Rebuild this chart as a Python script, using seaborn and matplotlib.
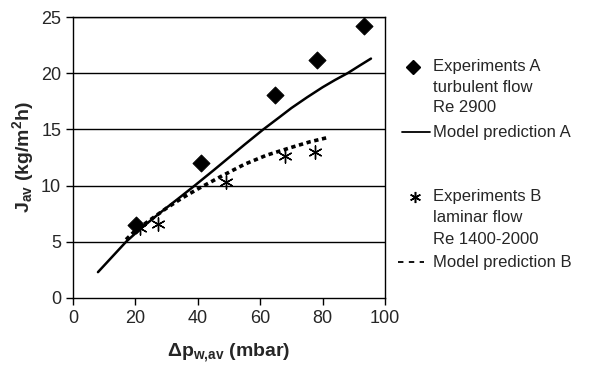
import matplotlib
matplotlib.use("Agg")
import matplotlib.pyplot as plt
from matplotlib.lines import Line2D
import pandas as pd
import seaborn as sns

# experiments A (turbulent)
exp_a_dp = [20.3, 41.0, 64.8, 78.3, 93.2]
exp_a_j = [6.5, 12.0, 18.1, 21.2, 24.2]

# experiments B (laminar)
exp_b_dp = [21.5, 27.3, 49.0, 67.9, 77.5]
exp_b_j = [6.2, 6.6, 10.3, 12.6, 13.0]

# model predictions
model_a_dp = [8, 12, 17, 22, 28, 34, 39, 45, 50, 55, 61, 66, 70, 75, 80, 84, 88, 92, 95.5]
model_a_j = [2.3, 3.5, 5.0, 6.25, 7.6, 8.9, 10.0, 11.35, 12.5, 13.65, 15.0, 16.05,
             16.9, 17.85, 18.75, 19.4, 20.0, 20.7, 21.3]
model_b_dp = [17, 20, 25, 30, 35, 40, 48, 55, 62, 70, 76, 82]
model_b_j = [5.2, 6.0, 7.0, 8.0, 8.9, 9.7, 10.9, 11.9, 12.7, 13.4, 13.9, 14.3]

sns.set_style("ticks")
plt.rcParams['font.family'] = ['Liberation Sans', 'DejaVu Sans']
plt.rcParams['mathtext.fontset'] = 'custom'
plt.rcParams['mathtext.rm'] = 'Liberation Sans'
plt.rcParams['mathtext.it'] = 'Liberation Sans:italic'
plt.rcParams['mathtext.bf'] = 'Liberation Sans:bold'

df_a = pd.DataFrame({'dp': exp_a_dp, 'J': exp_a_j})
df_b = pd.DataFrame({'dp': exp_b_dp, 'J': exp_b_j})
df_ma = pd.DataFrame({'dp': model_a_dp, 'J': model_a_j})
df_mb = pd.DataFrame({'dp': model_b_dp, 'J': model_b_j})

fig = plt.figure(figsize=(5.89, 3.65), dpi=100)
ax = fig.add_axes([73 / 589, 1 - 298 / 365, 312 / 589, 281 / 365])

for yv in [5, 10, 15, 20, 25]:
    ax.axhline(yv, color='black', lw=1, zorder=0)

sns.lineplot(data=df_ma, x='dp', y='J', ax=ax, color='black', lw=1.8, sort=False)
sns.lineplot(data=df_mb, x='dp', y='J', ax=ax, color='black', lw=2.6, sort=False,
             dashes=False, linestyle=(0, (1.2, 1.0)))
sns.scatterplot(data=df_a, x='dp', y='J', ax=ax, marker='D', s=75, color='black',
                edgecolor='black', zorder=3)
sns.scatterplot(data=df_b, x='dp', y='J', ax=ax, marker=(6, 2, 0), s=90,
                color='black', linewidth=1.0, zorder=3)

ax.set_xlim(0, 100)
ax.set_ylim(0, 25)
ax.set_xticks([0, 20, 40, 60, 80, 100])
ax.set_yticks([0, 5, 10, 15, 20, 25])
ax.tick_params(labelsize=13, length=5, width=1, color='black', direction='out')
for sp in ax.spines.values():
    sp.set_visible(True)
    sp.set_linewidth(1)
    sp.set_color('black')

ax.set_xlabel(r"Δ$\mathbf{p_{w{,}av}}$ (mbar)", fontsize=14, fontweight='bold', labelpad=10)
ax.set_ylabel(r"$\mathbf{J_{av}}$ (kg/m$\mathbf{^2}$h)", fontsize=14, fontweight='bold', labelpad=4)

# legend drawn by hand so the symbol sits next to the first text line
def fx(px):
    return px / 589

def fy(py):
    return 1 - py / 365

fig.add_artist(Line2D([fx(413)], [fy(67)], marker='D', ms=7, color='black', lw=0))
fig.add_artist(Line2D([fx(402), fx(430)], [fy(132), fy(132)], color='black', lw=1.3))
fig.add_artist(Line2D([fx(415)], [fy(197)], marker=(6, 2, 0), ms=8, mew=1.1, color='black', lw=0))
fig.add_artist(Line2D([fx(398), fx(424)], [fy(262), fy(262)], color='black', lw=1.3,
                      linestyle=(0, (3, 3))))

leg_lines = [
    ("Experiments A", 67), ("turbulent flow", 87), ("Re 2900", 107),
    ("Model prediction A", 132),
    ("Experiments B", 197), ("laminar flow", 218), ("Re 1400-2000", 239),
    ("Model prediction B", 262),
]
for txt, py in leg_lines:
    fig.text(fx(433), fy(py), txt, fontsize=12, va='center', ha='left')

fig.savefig("out.png", dpi=100)
